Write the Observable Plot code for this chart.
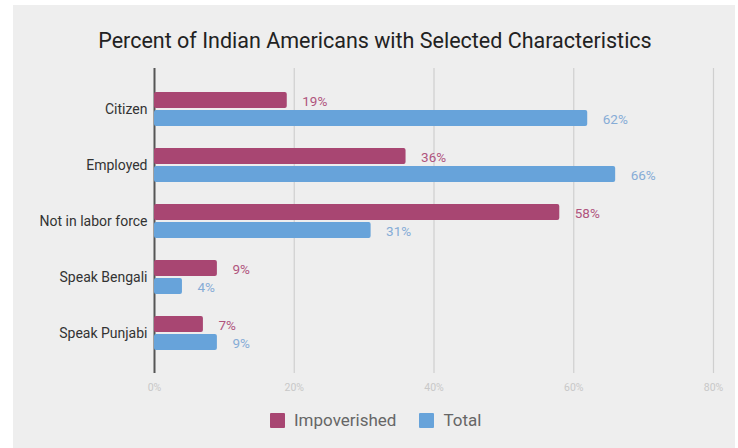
<!DOCTYPE html>
<html>
<head>
<meta charset="utf-8">
<script src="https://cdn.jsdelivr.net/npm/d3@7"></script>
<script src="https://cdn.jsdelivr.net/npm/@observablehq/plot@0.6"></script>
<style>
  html, body { margin: 0; padding: 0; background: #ffffff; width: 738px; height: 448px; overflow: hidden; font-family: Roboto, "Open Sans", sans-serif; }
  #panel { position: absolute; left: 13px; top: 5px; width: 722px; height: 443px; background: #eeeeee; }
  #title { position: absolute; left: 0; top: 28px; width: 750px; text-align: center; font-size: 21.5px; color: #222; white-space: nowrap; }
  #chart { position: absolute; left: 0; top: 0; }
  #legend { position: absolute; left: 270px; top: 410px; display: flex; align-items: center; font-size: 17px; color: #666; white-space: nowrap; }
  .sw { width: 15px; height: 15px; display: inline-block; margin-right: 9px; border-radius: 1px; }
  .item { display: flex; align-items: center; margin-right: 23px; }
</style>
</head>
<body>
<div id="panel"></div>
<div id="chart"></div>
<div id="title">Percent of Indian Americans with Selected Characteristics</div>
<div id="legend"></div>
<script>
const categories = ["Citizen", "Employed", "Not in labor force", "Speak Bengali", "Speak Punjabi"];
const series = ["Impoverished", "Total"];
const impoverished = [19, 36, 58, 9, 7];
const total = [62, 66, 31, 4, 9];
const xTicks = [0, 20, 40, 60, 80];
const barColors = ["#a84672", "#67a3da"];
const labelColors = ["#b0547d", "#86acd6"];

const rows = [];
categories.forEach((c, i) => {
  rows.push({category: c, series: series[0], value: impoverished[i]});
  rows.push({category: c, series: series[1], value: total[i]});
});
const imp = rows.filter(d => d.series === series[0]);
const tot = rows.filter(d => d.series === series[1]);

const chart = Plot.plot({
  width: 738,
  height: 448,
  marginLeft: 154,
  marginRight: 25,
  marginTop: 68,
  marginBottom: 75,
  style: {background: "transparent", fontFamily: "Roboto, sans-serif"},
  x: {domain: [0, 80], ticks: xTicks, tickFormat: d => d + "%", tickSize: 0, tickPadding: 10, label: null},
  y: {domain: categories, padding: 0.4, tickSize: 0, tickPadding: 7, label: null},
  marks: [
    Plot.ruleX(xTicks.slice(1), {stroke: "#cfcfcf", strokeWidth: 1.2}),
    Plot.ruleX([0], {stroke: "#555", strokeWidth: 2}),
    Plot.barX(imp, {y: "category", x: "value", fill: barColors[0], insetBottom: 18, rx: 2}),
    Plot.barX(tot, {y: "category", x: "value", fill: barColors[1], insetTop: 18, rx: 2}),
    Plot.text(imp, {y: "category", x: "value", text: d => d.value + "%", dx: 15, dy: -7.5, textAnchor: "start", fill: labelColors[0], fontSize: 13.5}),
    Plot.text(tot, {y: "category", x: "value", text: d => d.value + "%", dx: 15, dy: 10.5, textAnchor: "start", fill: labelColors[1], fontSize: 13.5})
  ]
});
document.getElementById("chart").appendChild(chart);
d3.select(chart).selectAll("[aria-label='y-axis tick label'] text, [aria-label='y-axis'] text").attr("fill", "#333").style("font-size", "14px");
d3.select(chart).selectAll("[aria-label='x-axis tick label'] text, [aria-label='x-axis'] text").attr("fill", "#c8c8c8").style("font-size", "10.5px");

const legend = document.getElementById("legend");
series.forEach((s, i) => {
  const item = document.createElement("div");
  item.className = "item";
  const sw = document.createElement("span");
  sw.className = "sw";
  sw.style.background = barColors[i];
  item.appendChild(sw);
  item.appendChild(document.createTextNode(s));
  legend.appendChild(item);
});
</script>
</body>
</html>
